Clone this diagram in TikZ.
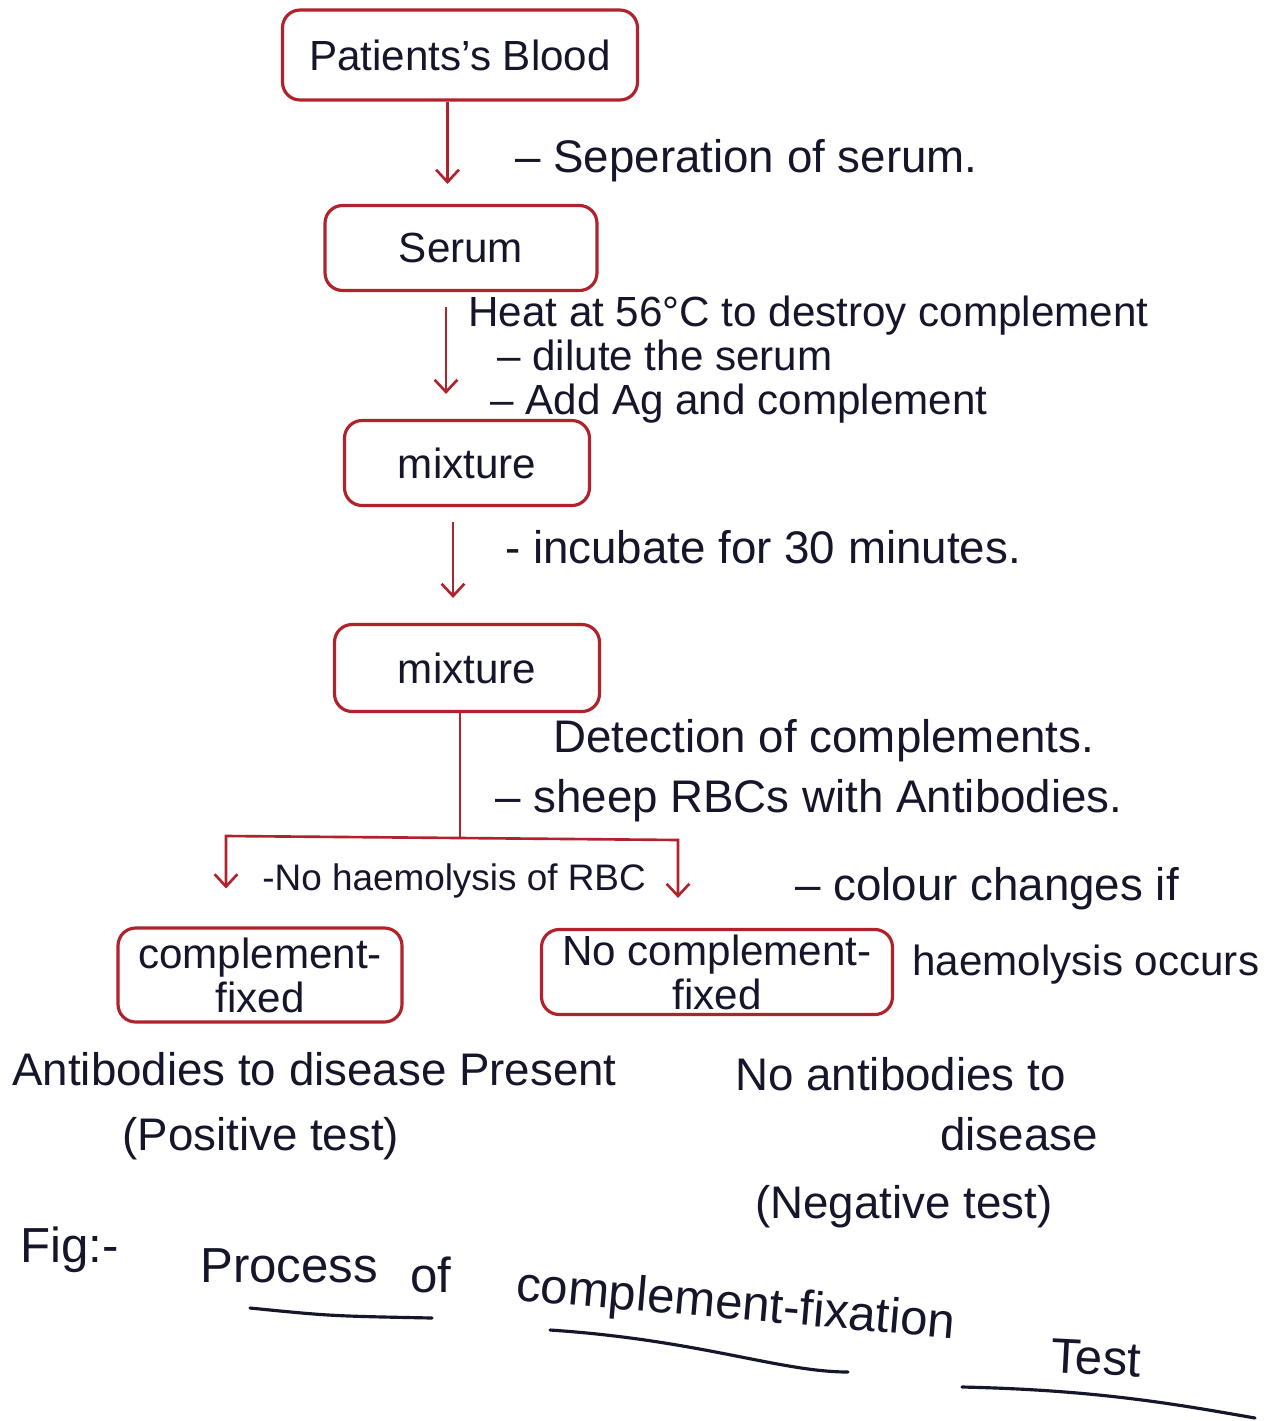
\documentclass[tikz,border=0pt]{standalone}
\usepackage{fontspec}
\setmainfont{Liberation Sans}
\usetikzlibrary{arrows.meta}
\definecolor{penred}{HTML}{B0232C}
\definecolor{ink}{HTML}{16162B}
\tikzset{
  box/.style={draw=penred, line width=1.8pt, rounded corners=10pt, inner sep=0pt,
              text=ink, font=\fontsize{24}{25}\selectfont, align=center},
  flow/.style={draw=penred, line width=1.5pt},
  arr/.style={flow, -{Straight Barb[length=7pt,width=13pt,line width=1.5pt]}},
  note/.style={text=ink, anchor=base west, inner sep=0pt, font=\fontsize{26}{30}\selectfont},
  tight/.style={note, font=\fontsize{24}{28}\selectfont},
  small/.style={note, font=\fontsize{21}{25}\selectfont},
  capt/.style={note, font=\fontsize{28}{32}\selectfont},
  uline/.style={draw=ink, line width=1.8pt, line cap=round}
}
\begin{document}
\begin{tikzpicture}[x=0.02cm, y=-0.02cm]
\useasboundingbox (0,0) rectangle (1283,1421);
\fill[white] (0,0) rectangle (1283,1421);

% flow boxes
\node[box, minimum width=7.1cm, minimum height=1.8cm] (blood) at (460,55) {Patients's Blood};
\node[box, minimum width=5.44cm, minimum height=1.7cm] (serum) at (461,248) {Serum};
\node[box, minimum width=4.9cm, minimum height=1.7cm] (mixa) at (467,463) {mixture};
\node[box, minimum width=5.3cm, minimum height=1.74cm] (mixb) at (467,668) {mixture};
\node[box, minimum width=5.68cm, minimum height=1.88cm] (cfix) at (260,975) {complement-\\fixed};
\node[box, minimum width=7.02cm, minimum height=1.7cm] (ncfix) at (717,972) {No complement-\\fixed};

% vertical steps
\draw[arr, shorten >=0.4cm] ([xshift=-0.25cm]blood.south) -- ([xshift=-0.25cm]blood.south |- serum.north);
\draw[arr, shorten <=0.3cm, shorten >=0.5cm] ([xshift=-0.3cm]serum.south) -- ([xshift=-0.3cm]serum.south |- mixa.north);
\draw[arr, shorten <=0.3cm, shorten >=0.5cm] ([xshift=-0.28cm]mixa.south) -- ([xshift=-0.28cm]mixa.south |- mixb.north);

% branch to the two results
\coordinate (split) at (460,838);
\coordinate (lcorner) at (226,836);
\coordinate (rcorner) at (678,840);
\draw[flow] (mixb.south -| split) -- (split);
\draw[arr, shorten >=0.76cm] (split) -- (lcorner) -- (lcorner |- cfix.north);
\draw[arr, shorten >=0.6cm] (split) -- (rcorner) -- (rcorner |- ncfix.north);

% step notes
\node[note] (sep) at (515,172) {-- Seperation of serum.};
\node[tight] (heat) at (468,326) {Heat at 56°C to destroy complement};
\node[tight] (dil) at (497,370) {-- dilute the serum};
\node[tight] (add) at (490,414) {-- Add Ag and complement};
\node[note] (inc) at (505,563) {- incubate for 30 minutes.};
\node[note] (det) at (553,752) {Detection of complements.};
\node[note] (sheep) at (495,812) {-- sheep RBCs with Antibodies.};
\node[small] (nohaem) at (262,890) {-No haemolysis of RBC};
\node[note] (col) at (795,900) {-- colour changes if};
\node[tight] (occ) at (912,975) {haemolysis occurs};

% results
\node[note] (pos) at (12,1085) {Antibodies to disease Present};
\node[note] (post) at (122,1150) {(Positive test)};
\node[note] (neg) at (735,1090) {No antibodies to};
\node[note] (negd) at (940,1150) {disease};
\node[note] (negt) at (755,1218) {(Negative test)};

% caption
\node[capt] (fig) at (20,1262) {Fig:-};
\node[capt] (proc) at (200,1282) {Process};
\node[capt] (of) at (410,1292) {of};
\node[capt, rotate=-5] (cft) at (515,1300) {complement-fixation};
\node[capt, rotate=-3] (test) at (1050,1372) {Test};
\draw[uline] (250,1308) .. controls (330,1316) .. (432,1318);
\draw[uline] (550,1330) .. controls (700,1340) and (780,1372) .. (848,1372);
\draw[uline] (962,1387) .. controls (1100,1390) and (1180,1405) .. (1255,1418);
\end{tikzpicture}
\end{document}
